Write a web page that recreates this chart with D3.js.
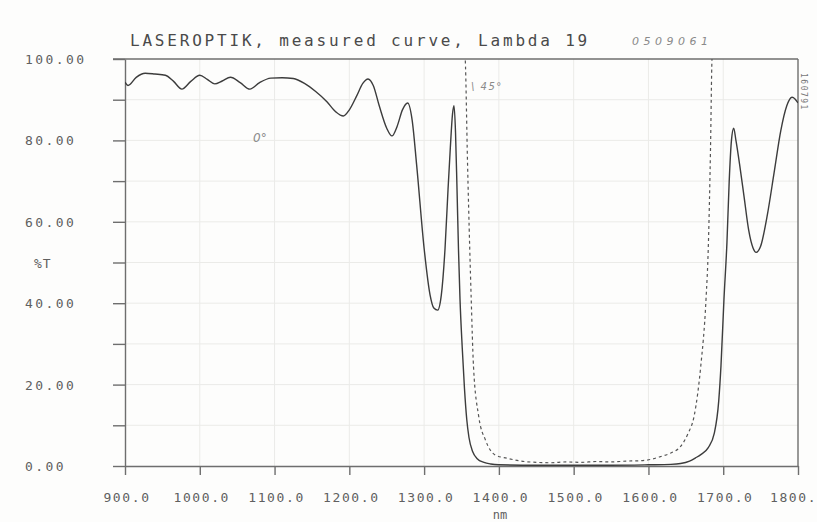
<!DOCTYPE html>
<html>
<head>
<meta charset="utf-8">
<script src="https://cdn.jsdelivr.net/npm/d3@7"></script>
<style>
  html, body { margin: 0; padding: 0; background: #fdfdfc; }
  svg { display: block; }
  .plotter { font-family: "DejaVu Sans Mono", "Liberation Mono", monospace; fill: #606060; }
  .hand { font-family: "DejaVu Sans", sans-serif; font-style: italic; fill: #8a8a8a; }
</style>
</head>
<body>
<svg id="chart" width="817" height="522"></svg>
<script>
// Axis ticks and labels
const xTicks = [900, 1000, 1100, 1200, 1300, 1400, 1500, 1600, 1700, 1800];
const xTickLabels = ["900.0", "1000.0", "1100.0", "1200.0", "1300.0", "1400.0", "1500.0", "1600.0", "1700.0", "1800."];
const yTicks = [0, 10, 20, 30, 40, 50, 60, 70, 80, 90, 100];
const yLabels = [0, 20, 40, 60, 80, 100];

// Transmission at 0° incidence (wavelength nm, %T)
const wl0 = [900, 904, 915, 927, 940, 954, 965, 976, 988, 1000, 1010, 1020, 1030, 1041, 1054, 1067, 1080, 1095, 1110, 1125,
  1140, 1155, 1170, 1182, 1192, 1200, 1210, 1218, 1225, 1232, 1240, 1250, 1257, 1264, 1271, 1278, 1284, 1290, 1300, 1308,
  1313, 1318, 1323, 1328, 1332, 1335, 1338, 1340, 1342, 1344, 1346, 1348, 1351, 1354, 1357, 1360, 1365, 1371, 1380, 1389, 1400,
  1450, 1500, 1550, 1600, 1630, 1643, 1655, 1663, 1670, 1680, 1688, 1694, 1697, 1701, 1705, 1708, 1711, 1714, 1717, 1722,
  1728, 1734, 1740, 1744, 1750, 1759, 1768, 1777, 1785, 1792, 1796, 1800];
const t0 = [94.3, 93.5, 95.5, 96.5, 96.3, 96.0, 94.5, 92.6, 94.5, 96.0, 95.0, 93.9, 94.6, 95.5, 94.2, 92.6, 94.2, 95.3, 95.4, 95.2,
  94.0, 92.0, 89.5, 87.0, 86.0, 87.5, 91.0, 94.0, 95.1, 93.5, 88.5, 83.0, 81.1, 83.5, 87.5, 89.2, 85.0, 74.0, 53.5, 42.0,
  38.8, 38.3, 42.0, 53.5, 68.0, 78.0, 86.5, 88.5, 82.0, 68.0, 53.0, 41.0, 29.0, 19.0, 11.5, 7.0, 3.5, 1.8, 0.9, 0.5, 0.3,
  0.2, 0.2, 0.2, 0.3, 0.4, 0.6, 1.2, 2.0, 2.8, 4.5, 8.0, 16.0, 24.6, 41.0, 55.0, 70.0, 80.0, 83.0, 80.0, 74.0,
  66.0, 58.0, 53.5, 52.5, 54.0, 61.7, 72.0, 82.4, 88.5, 90.6, 90.2, 89.2];

// Transmission at 45° incidence (wavelength nm, %T)
const wl45 = [1353, 1355, 1358, 1361, 1363, 1366, 1373, 1382, 1395, 1411, 1430, 1450, 1470, 1490, 1510, 1530, 1550, 1570,
  1590, 1605, 1616, 1630, 1643, 1653, 1661, 1666, 1670, 1677, 1680, 1683, 1685, 1687];
const t45 = [104, 100, 75, 53.5, 41, 24.6, 12.2, 6.4, 2.7, 1.9, 1.2, 0.9, 0.8, 1.0, 0.9, 1.1, 1.0, 1.2,
  1.3, 1.7, 2.3, 3.2, 4.8, 8.0, 12.2, 18.0, 24.6, 41.0, 53.5, 78, 100, 104];

const svg = d3.select("#chart");
const x = d3.scaleLinear().domain([900, 1800]).range([125, 798]);
const y = d3.scaleLinear().domain([0, 100]).range([466, 59]);

// Faint chart-paper grid
const grid = svg.append("g").attr("stroke", "#ebebe8").attr("stroke-width", 1);
grid.selectAll("line.gx").data(xTicks.slice(1, -1)).join("line")
  .attr("x1", d => x(d)).attr("x2", d => x(d)).attr("y1", y(100)).attr("y2", y(0));
grid.selectAll("line.gy").data(yTicks.slice(1, -1)).join("line")
  .attr("x1", x(900)).attr("x2", x(1800)).attr("y1", d => y(d)).attr("y2", d => y(d));

// Frame: top and right border
const frame = svg.append("g").attr("stroke", "#6e6e6e").attr("stroke-width", 1.4).attr("fill", "none");
frame.append("line").attr("x1", x(900) - 12).attr("x2", x(1800)).attr("y1", y(100)).attr("y2", y(100));
frame.append("line").attr("x1", x(1800)).attr("x2", x(1800)).attr("y1", y(100)).attr("y2", y(0));

// Bottom axis
const xAxis = svg.append("g").attr("transform", `translate(0,${y(0)})`)
  .call(d3.axisBottom(x).tickValues(xTicks).tickSize(9).tickSizeOuter(0).tickFormat(""));
// Left axis
const yAxis = svg.append("g").attr("transform", `translate(${x(900)},0)`)
  .call(d3.axisLeft(y).tickValues(yTicks).tickSize(12).tickSizeOuter(0).tickFormat(""));
[xAxis, yAxis].forEach(a => {
  a.select(".domain").attr("stroke", "#6e6e6e").attr("stroke-width", 1.4);
  a.selectAll(".tick line").attr("stroke", "#6e6e6e").attr("stroke-width", 1.4);
});

// Tick labels
svg.append("g").selectAll("text").data(xTicks).join("text")
  .attr("class", "plotter")
  .attr("x", (d, i) => i === xTicks.length - 1 ? x(d) - 28 : x(d) + 2)
  .attr("y", 502)
  .attr("text-anchor", (d, i) => i === xTicks.length - 1 ? "start" : "middle")
  .style("font-size", "13px").style("letter-spacing", "1.6px")
  .text((d, i) => xTickLabels[i]);
svg.append("g").selectAll("text").data(yLabels).join("text")
  .attr("class", "plotter")
  .attr("x", 25).attr("y", d => y(d) + 5)
  .style("font-size", "13px").style("letter-spacing", "2.4px")
  .text(d => d.toFixed(2));

// Axis titles and header
svg.append("text").attr("class", "plotter").attr("x", 34).attr("y", 268)
  .style("font-size", "13px").style("letter-spacing", "1px").text("%T");
svg.append("text").attr("class", "plotter").attr("x", 500).attr("y", 519).attr("text-anchor", "middle")
  .style("font-size", "12px").text("nm");
svg.append("text").attr("class", "plotter").attr("x", 130).attr("y", 46)
  .style("font-size", "16px").style("letter-spacing", "2.8px").style("fill", "#4a4a4a")
  .text("LASEROPTIK, measured curve, Lambda 19");

// Handwritten notes
svg.append("text").attr("class", "hand").attr("x", 632).attr("y", 45)
  .style("font-size", "11px").style("letter-spacing", "4.5px").text("0509061");
svg.append("text").attr("class", "hand").attr("x", 253).attr("y", 142)
  .style("font-size", "12px").text("0°");
svg.append("text").attr("class", "hand").attr("x", 471).attr("y", 90)
  .style("font-size", "10px").style("letter-spacing", "1.5px").text("\\ 45°");
svg.append("text").attr("class", "plotter")
  .attr("transform", "translate(801,73) rotate(90)")
  .style("font-size", "8px").style("letter-spacing", "1.5px").style("fill", "#777")
  .text("160791");

// Curves, clipped to the plot frame
svg.append("clipPath").attr("id", "plotclip").append("rect")
  .attr("x", x(900)).attr("y", y(100)).attr("width", x(1800) - x(900)).attr("height", y(0) - y(100));

const line = d3.line().x(d => x(d[0])).y(d => y(d[1])).curve(d3.curveMonotoneX);
const curves = svg.append("g").attr("clip-path", "url(#plotclip)").attr("fill", "none");

curves.append("path")
  .datum(d3.zip(wl45, t45))
  .attr("d", line)
  .attr("stroke", "#555").attr("stroke-width", 1.2).attr("stroke-dasharray", "3,3");

curves.append("path")
  .datum(d3.zip(wl0, t0))
  .attr("d", line)
  .attr("stroke", "#3c3c3c").attr("stroke-width", 1.4);
</script>
</body>
</html>
